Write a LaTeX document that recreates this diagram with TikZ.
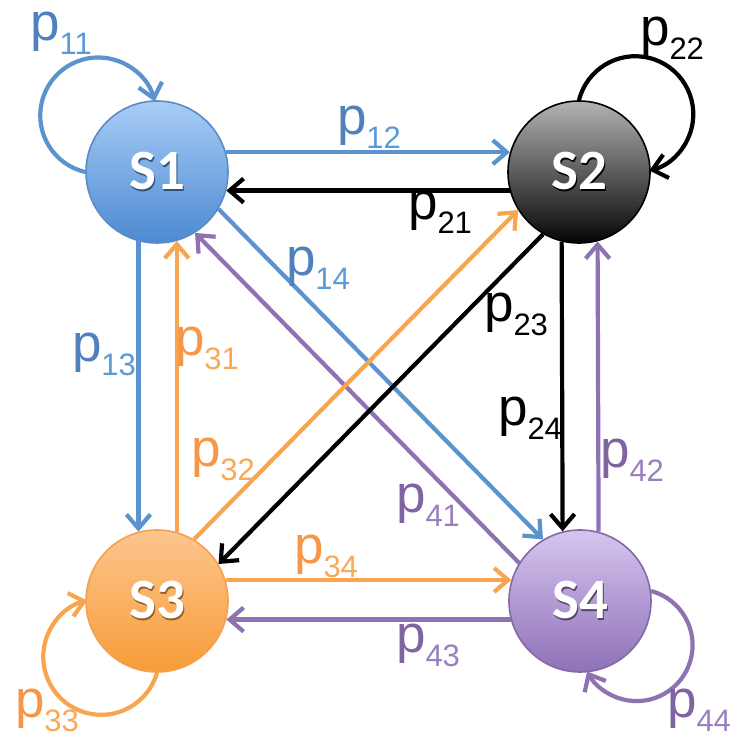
\documentclass[tikz,border=0pt]{standalone}
\usepackage{fontspec}
\setmainfont{Liberation Sans}
\newfontfamily\statefont{Carlito}
\usetikzlibrary{arrows.meta}

% line, label and fill colours
\definecolor{blueline}{HTML}{5B93CF}
\definecolor{bluetext}{HTML}{4F81BD}
\definecolor{bluesub}{HTML}{5B9BD5}
\definecolor{orangeline}{HTML}{F9A550}
\definecolor{orangetext}{HTML}{F79646}
\definecolor{orangesub}{HTML}{F9A857}
\definecolor{purpleline}{HTML}{8E72B2}
\definecolor{purpletext}{HTML}{7F64A2}
\definecolor{purplesub}{HTML}{9A80BF}
\definecolor{sonetop}{HTML}{A8CCF6}
\definecolor{sonebot}{HTML}{4C8AD2}
\definecolor{soneborder}{HTML}{5A8BC8}
\definecolor{stwotop}{HTML}{B3B3B3}
\definecolor{stwobot}{HTML}{050505}
\definecolor{sthreetop}{HTML}{FCC68E}
\definecolor{sthreebot}{HTML}{F79C38}
\definecolor{sthreeborder}{HTML}{F5A04C}
\definecolor{sfourtop}{HTML}{D5C5EE}
\definecolor{sfourbot}{HTML}{8F72B8}
\definecolor{sfourborder}{HTML}{8468A8}

% transition label: p with a lowered index
\newcommand{\plabel}[2]{p\raisebox{-14pt}{\fontsize{31}{31}\selectfont\textcolor{#2}{#1}}}
% white state name with a soft drop shadow
\newcommand{\statename}[2]{\raisebox{-4pt}{\rlap{\hspace{1.5pt}\raisebox{-2pt}{\textcolor{#2}{#1}}}\textcolor{white}{#1}}}

\begin{document}
\begin{tikzpicture}[x=1pt,y=1pt,
  state/.style={circle, minimum size=142pt, inner sep=0pt, line width=1.6pt,
    shading=axis, shading angle=0, font=\statefont\bfseries\fontsize{57}{60}\selectfont},
  edge/.style={line width=4.2pt, -{Straight Barb[length=14pt,width=24pt]}},
  lab/.style={inner sep=0pt, font=\fontsize{53}{60}\selectfont}]
\useasboundingbox (0,0) rectangle (735,737);

% states
\node[state, draw=soneborder, top color=sonetop, bottom color=sonebot] (S1) at (157,565)
  {\statename{S1}{sonebot!60!black}};
\node[state, draw=black, top color=stwotop, bottom color=stwobot] (S2) at (579,565)
  {\statename{S2}{black}};
\node[state, draw=sthreeborder, top color=sthreetop, bottom color=sthreebot] (S3) at (157,136)
  {\statename{S3}{sthreebot!60!black}};
\node[state, draw=sfourborder, top color=sfourtop, bottom color=sfourbot] (S4) at (580,136)
  {\statename{S4}{sfourbot!60!black}};

% horizontal transitions
\draw[edge, blueline] (S1.16) -- (S2.164);
\draw[edge, black] (S2.195) -- (S1.-15);
\draw[edge, orangeline] (S3.17) -- (S4.163);
\draw[edge, purpleline] (S4.-165) -- (S3.-15);

% vertical transitions
\draw[edge, blueline] (S1.-105.5) -- (S3.105.5);
\draw[edge, orangeline] (S3.74) -- (S1.-74);
\draw[edge, black] (S2.-104) -- (S4.104);
\draw[edge, purpleline] (S4.75) -- (S2.-75);

% diagonal transitions
\draw[edge, blueline] (S1.-31) -- (S4.121);
\draw[edge, purpleline] (S4.148) -- (S1.-58);
\draw[edge, black] (S2.-120) -- (S3.31);
\draw[edge, orangeline] (S3.59) -- (S2.212);

% self loops
\draw[edge, blueline] (S1.180) arc[start angle=257, end angle=14, radius=58];
\draw[edge, black] (S2.90) arc[start angle=166, end angle=-76, radius=58];
\draw[edge, orangeline] (S3.-90) arc[start angle=-16, end angle=-256, radius=58];
\draw[edge, purpleline] (S4.8) arc[start angle=75, end angle=-152, radius=56];

% transition probabilities
\node[lab, text=bluetext] (l11) at (61,703.5) {\plabel{11}{bluesub}};
\node[lab, text=bluetext] (l12) at (369,610) {\plabel{12}{bluesub}};
\node[lab, text=bluetext] (l13) at (104,383) {\plabel{13}{bluesub}};
\node[lab, text=bluetext] (l14) at (318,469) {\plabel{14}{bluesub}};
\node[lab, text=black] (l21) at (440,525) {\plabel{21}{black}};
\node[lab, text=black] (l22) at (672,699) {\plabel{22}{black}};
\node[lab, text=black] (l23) at (516,423) {\plabel{23}{black}};
\node[lab, text=black] (l24) at (530,319) {\plabel{24}{black}};
\node[lab, text=orangetext] (l31) at (207,389) {\plabel{31}{orangesub}};
\node[lab, text=orangetext] (l32) at (223,278) {\plabel{32}{orangesub}};
\node[lab, text=orangetext] (l33) at (47,27) {\plabel{33}{orangesub}};
\node[lab, text=orangetext] (l34) at (326,181) {\plabel{34}{orangesub}};
\node[lab, text=purpletext] (l41) at (428,232) {\plabel{41}{purplesub}};
\node[lab, text=purpletext] (l42) at (632,277) {\plabel{42}{purplesub}};
\node[lab, text=purpletext] (l43) at (428,92) {\plabel{43}{purplesub}};
\node[lab, text=purpletext] (l44) at (699,27) {\plabel{44}{purplesub}};
\end{tikzpicture}
\end{document}
